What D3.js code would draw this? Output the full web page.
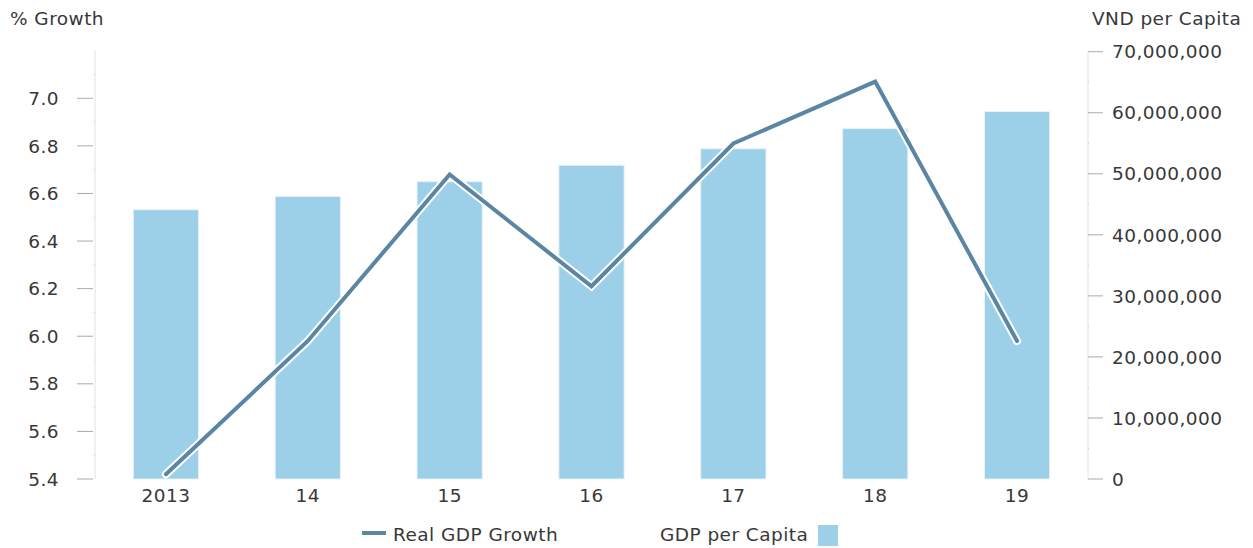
<!DOCTYPE html>
<html>
<head>
<meta charset="utf-8">
<script src="https://cdn.jsdelivr.net/npm/d3@7"></script>
<style>
  html, body { margin: 0; padding: 0; background: #fff; }
  svg text { font-family: "DejaVu Sans", sans-serif; fill: #383838; font-size: 18.5px; letter-spacing: 0.45px; }
</style>
</head>
<body>
<svg id="chart" width="1253" height="548"></svg>
<script>
// Vietnam: real GDP growth (%) and GDP per capita (VND)
const years = ["2013", "14", "15", "16", "17", "18", "19"];
const gdpGrowth = [5.42, 5.98, 6.68, 6.21, 6.81, 7.07, 5.98];
const gdpPerCapita = [44100000, 46300000, 48700000, 51400000, 54100000, 57400000, 60200000];
const growthTicks = [5.4, 5.6, 5.8, 6.0, 6.2, 6.4, 6.6, 6.8, 7.0];
const capitaTicks = [0, 10000000, 20000000, 30000000, 40000000, 50000000, 60000000, 70000000];

const svg = d3.select("#chart");
const plotL = 95, plotR = 1088, plotT = 50.7, plotB = 479;

const x = d3.scaleBand().domain(years).range([plotL, plotR]).paddingInner(0.54).paddingOuter(0.27);
const yL = d3.scaleLinear().domain([5.4, 7.2]).range([plotB, plotT]);
const yR = d3.scaleLinear().domain([0, 70000000]).range([plotB, 51.7]);

// Bars: GDP per capita
svg.append("g").selectAll("rect").data(years).join("rect")
  .attr("x", d => x(d))
  .attr("width", x.bandwidth())
  .attr("y", (d, i) => yR(gdpPerCapita[i]))
  .attr("height", (d, i) => plotB - yR(gdpPerCapita[i]))
  .attr("fill", "#9bd0e8")
  .attr("stroke", "#e8f2f7")
  .attr("stroke-width", 1);

// Left axis
const gL = svg.append("g").attr("transform", `translate(${plotL},0)`);
gL.append("line").attr("y1", plotT).attr("y2", plotB).attr("stroke", "#e2e2e2");
const minorL = d3.range(5.5, 7.2, 0.2);
gL.selectAll(".minor").data(minorL).join("line")
  .attr("x1", -1).attr("x2", 0)
  .attr("y1", d => yL(d)).attr("y2", d => yL(d)).attr("stroke", "#ccc");
const tL = gL.selectAll(".tick").data(growthTicks).join("g")
  .attr("transform", d => `translate(0,${yL(d)})`);
tL.append("line").attr("x1", -18).attr("x2", -2).attr("stroke", "#aaa");
tL.append("text").attr("x", -36).attr("dy", "0.36em").attr("text-anchor", "end")
  .text(d => d3.format(".1f")(d));

// Right axis
const gR = svg.append("g").attr("transform", `translate(${plotR},0)`);
gR.append("line").attr("y1", yR(70000000)).attr("y2", plotB).attr("stroke", "#e2e2e2");
const minorR = d3.range(5000000, 70000000, 10000000);
gR.selectAll(".minor").data(minorR).join("line")
  .attr("x1", 0).attr("x2", 1)
  .attr("y1", d => yR(d)).attr("y2", d => yR(d)).attr("stroke", "#ccc");
const tR = gR.selectAll(".tick").data(capitaTicks).join("g")
  .attr("transform", d => `translate(0,${yR(d)})`);
tR.append("line").attr("x1", 0).attr("x2", 15).attr("stroke", "#aaa");
tR.append("text").attr("x", 24).attr("dy", "0.36em").attr("text-anchor", "start")
  .text(d => d3.format(",")(d));

// X labels
svg.append("g").selectAll("text").data(years).join("text")
  .attr("x", d => x(d) + x.bandwidth() / 2)
  .attr("y", 502)
  .attr("text-anchor", "middle")
  .text(d => d);

// Line: real GDP growth, with a white halo
const line = d3.line()
  .x((d, i) => x(years[i]) + x.bandwidth() / 2)
  .y(d => yL(d));
svg.append("path").datum(gdpGrowth).attr("d", line)
  .attr("fill", "none").attr("stroke", "#fff").attr("stroke-width", 8)
  .attr("stroke-linejoin", "miter").attr("stroke-linecap", "round");
svg.append("path").datum(gdpGrowth).attr("d", line)
  .attr("fill", "none").attr("stroke", "#5a86a3").attr("stroke-width", 4)
  .attr("stroke-linejoin", "miter").attr("stroke-linecap", "round");

// Axis titles
svg.append("text").attr("x", 10).attr("y", 25).text("% Growth");
svg.append("text").attr("x", 1092).attr("y", 25).text("VND per Capita");

// Legend
const lg = svg.append("g");
lg.append("line").attr("x1", 362).attr("x2", 386).attr("y1", 533).attr("y2", 533)
  .attr("stroke", "#5a86a3").attr("stroke-width", 4);
lg.append("text").attr("x", 393).attr("y", 541).text("Real GDP Growth");
lg.append("text").attr("x", 660).attr("y", 541).text("GDP per Capita");
lg.append("rect").attr("x", 818).attr("y", 525).attr("width", 20).attr("height", 21).attr("fill", "#9bd0e8");
</script>
</body>
</html>
